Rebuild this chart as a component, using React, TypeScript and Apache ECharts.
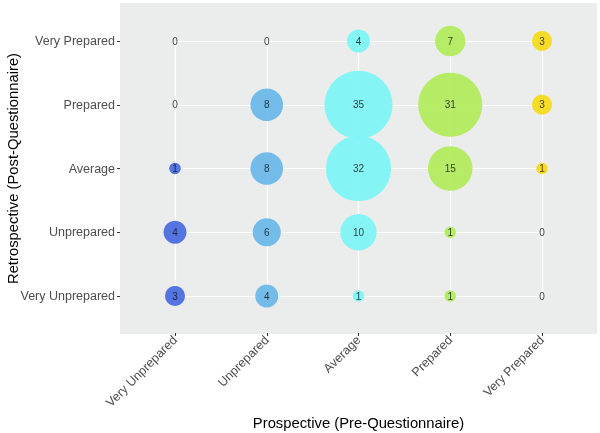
import React, { useEffect, useRef } from "react";
import * as echarts from "echarts";

const xCategories = ["Very Unprepared", "Unprepared", "Average", "Prepared", "Very Prepared"];
const yCategories = ["Very Unprepared", "Unprepared", "Average", "Prepared", "Very Prepared"];
const columnColors = ["#4C6EE2", "#6DB9EA", "#80F4F4", "#B3EB5E", "#F4DB1D"];

// counts per retrospective row (bottom -> top), each across prospective columns
const rowVeryUnprepared = [3, 4, 1, 1, 0];
const rowUnprepared = [4, 6, 10, 1, 0];
const rowAverage = [1, 8, 32, 15, 1];
const rowPrepared = [0, 8, 35, 31, 3];
const rowVeryPrepared = [0, 0, 4, 7, 3];
const rows = [rowVeryUnprepared, rowUnprepared, rowAverage, rowPrepared, rowVeryPrepared];

export default function App() {
  const ref = useRef<HTMLDivElement>(null);
  useEffect(() => {
    if (!ref.current) return;
    const chart = echarts.init(ref.current, null, { renderer: "svg" });
    const bubbleData: any[] = [];
    const labelData: any[] = [];
    rows.forEach((row, yi) => {
      row.forEach((v, xi) => {
        if (v > 0) {
          bubbleData.push({ value: [xi, yi, v], itemStyle: { color: columnColors[xi] } });
        }
        labelData.push({ value: [xi, yi, v] });
      });
    });
    const font = "Liberation Sans, Arial, sans-serif";
    chart.setOption({
      animation: false,
      graphic: [
        {
          type: "rect",
          z: -10,
          shape: { x: 120, y: 3, width: 477, height: 331 },
          style: { fill: "#EBEDED" },
          silent: true,
        },
      ],
      grid: {
        left: 175,
        right: 58,
        top: 41,
        bottom: 137,
        containLabel: false,
        outerBoundsMode: "none",
      },
      xAxis: {
        type: "category",
        data: xCategories,
        boundaryGap: false,
        offset: 37,
        axisLine: { show: false },
        axisTick: { show: true, length: 3, lineStyle: { color: "#333333" } },
        axisLabel: { rotate: 45, fontSize: 12.5, color: "#4D4D4D", fontFamily: font, margin: 5 },
        splitLine: { show: true, lineStyle: { color: "#FFFFFF", width: 1.2 } },
        name: "Prospective (Pre-Questionnaire)",
        nameLocation: "middle",
        nameGap: 82,
        nameMoveOverlap: false,
        nameTextStyle: { fontSize: 14.8, color: "#000000", fontFamily: font },
      },
      yAxis: {
        type: "category",
        data: yCategories,
        boundaryGap: false,
        offset: 55,
        axisLine: { show: false },
        axisTick: { show: true, length: 3, lineStyle: { color: "#333333" } },
        axisLabel: { fontSize: 12.5, color: "#4D4D4D", fontFamily: font, margin: 5 },
        splitLine: { show: true, lineStyle: { color: "#FFFFFF", width: 1.2 } },
        name: "Retrospective (Post-Questionnaire)",
        nameLocation: "middle",
        nameGap: 100,
        nameMoveOverlap: false,
        nameTextStyle: { fontSize: 14.8, color: "#000000", fontFamily: font },
      },
      series: [
        {
          type: "scatter",
          data: bubbleData,
          symbolSize: (val: number[]) => 11.5 * Math.sqrt(val[2]),
          itemStyle: { opacity: 0.95 },
          z: 3,
        },
        {
          type: "scatter",
          data: labelData,
          symbolSize: 1,
          itemStyle: { color: "rgba(0,0,0,0)" },
          z: 4,
          label: {
            show: true,
            position: "inside",
            formatter: (p: any) => String(p.value[2]),
            fontSize: 10,
            color: "#111111",
            fontFamily: font,
          },
        },
      ],
    });
    return () => chart.dispose();
  }, []);
  return (
    <div
      ref={ref}
      style={{ position: "fixed", left: 0, top: 0, width: 600, height: 433 }}
    />
  );
}
